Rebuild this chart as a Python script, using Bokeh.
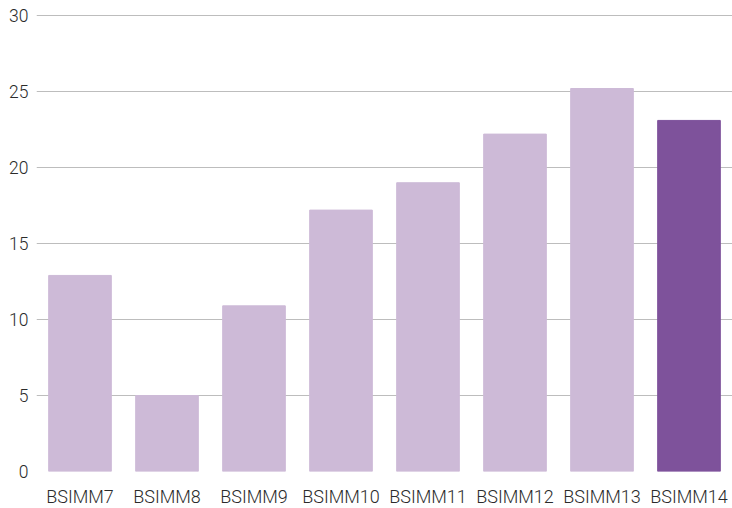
from bokeh.plotting import figure
from bokeh.models import ColumnDataSource, FixedTicker
from bokeh.embed import file_html
from bokeh.resources import INLINE

categories = ["BSIMM7", "BSIMM8", "BSIMM9", "BSIMM10", "BSIMM11", "BSIMM12", "BSIMM13", "BSIMM14"]
values = [12.9, 5.0, 10.9, 17.2, 19.0, 22.2, 25.2, 23.1]
colors = ["#CDBAD7"] * 7 + ["#7E529B"]
y_ticks = [0, 5, 10, 15, 20, 25, 30]

source = ColumnDataSource(dict(cat=categories, val=values, color=colors))

p = figure(x_range=categories, y_range=(0, 30.07), frame_width=696, frame_height=457,
           output_backend="svg", toolbar_location=None,
           min_border_top=14, min_border_right=0, min_border_bottom=0, min_border_left=36)
p.vbar(x="cat", top="val", width=0.72, color="color", source=source)

p.outline_line_color = None
p.background_fill_color = "white"
p.border_fill_color = "white"
p.xgrid.grid_line_color = None
p.ygrid.grid_line_color = "#BDBDBD"
p.ygrid.grid_line_width = 1
p.yaxis.ticker = FixedTicker(ticks=y_ticks)
p.x_range.range_padding = 0

for ax in (p.xaxis, p.yaxis):
    ax.axis_line_color = None
    ax.major_tick_line_color = None
    ax.minor_tick_line_color = None
    ax.major_tick_out = 0
    ax.major_tick_in = 0
    ax.major_label_text_font = "'Roboto Light', Roboto"
    ax.major_label_text_color = "#2b2b2b"
    ax.major_label_text_font_style = "normal"

p.xaxis.major_label_text_font_size = "18px"
p.yaxis.major_label_text_font_size = "17.5px"
p.yaxis.major_label_standoff = 8
p.xaxis.major_label_standoff = 14

open("out.html", "w").write(file_html(p, INLINE))
